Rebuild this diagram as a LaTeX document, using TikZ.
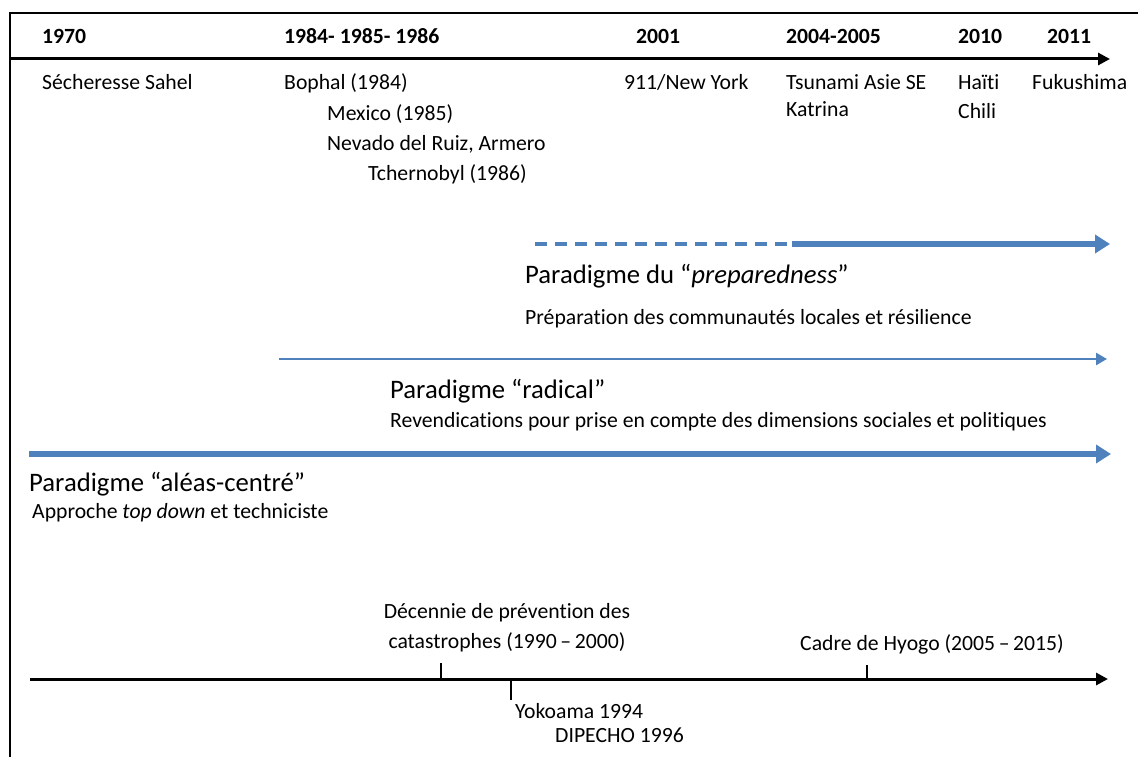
\documentclass[tikz,border=0pt]{standalone}
\usepackage{fontspec}
\setmainfont{Carlito}[Ligatures={NoCommon}]
\usetikzlibrary{arrows.meta}
\definecolor{pblue}{HTML}{4F81BD}
\begin{document}
\begin{tikzpicture}[x=1pt,y=-1pt,
  txt/.style={anchor=base west, inner sep=0pt, font=\fontsize{21.7}{26}\selectfont},
  ctxt/.style={anchor=base, inner sep=0pt, font=\fontsize{21.7}{26}\selectfont},
  yr/.style={anchor=base west, inner sep=0pt, font=\fontsize{21.7}{26}\selectfont\bfseries},
  ttl/.style={anchor=base west, inner sep=0pt, font=\fontsize{26.7}{32}\selectfont},
  blackaxis/.style={line width=3pt, black, -{Triangle[length=12pt,width=12pt]}},
  thickblue/.style={line width=6pt, pblue, -{Triangle[length=15pt,width=18pt]}},
  thinblue/.style={line width=2.5pt, pblue, -{Triangle[length=11pt,width=12pt]}},
  dashblue/.style={line width=4.5pt, pblue, dash pattern=on 12pt off 8pt},
  tick/.style={line width=1.5pt, black}]
\useasboundingbox (0,0) rectangle (1138,757);
% frame
\coordinate (fbl) at (10,757);
\coordinate (ftl) at (10,13);
\coordinate (ftr) at (1138,13);
\draw[line width=2.5pt] (fbl) -- (ftl) -- (ftr);
% top timeline
\coordinate (ta) at (10,59);
\coordinate (tb) at (1110,59);
\draw[blackaxis] (ta) -- (tb);
\node[yr] (y1970) at (42,44) {1970};
\node[yr] (y1984) at (284,44) {1984- 1985- 1986};
\node[yr] (y2001) at (636,44) {2001};
\node[yr] (y2004) at (786,44) {2004-2005};
\node[yr] (y2010) at (958,44) {2010};
\node[yr] (y2011) at (1047,44) {2011};
\node[txt] (sahel) at (42,90) {Sécheresse Sahel};
\node[txt] (bophal) at (284,90) {Bophal (1984)};
\node[txt] (mexico) at (327,121) {Mexico (1985)};
\node[txt] (nevado) at (327,151) {Nevado del Ruiz, Armero};
\node[txt] (tcherno) at (368,180) {Tchernobyl (1986)};
\node[txt] (ny) at (624,90) {911/New York};
\node[txt] (tsunami) at (786,90) {Tsunami Asie SE};
\node[txt] (katrina) at (786,117) {Katrina};
\node[txt] (haiti) at (958,90) {Haïti};
\node[txt] (chili) at (958,119) {Chili};
\node[txt] (fuku) at (1032,90) {Fukushima};
% preparedness
\coordinate (pa) at (535,244);
\coordinate (pm) at (792,244);
\coordinate (pb) at (1110,244);
\draw[dashblue] (pa) -- (pm);
\draw[thickblue] (pm) -- (pb);
\node[ttl] (prepT) at (525,283) {Paradigme du “\textit{preparedness}”};
\node[txt] (prepS) at (525,324) {Préparation des communautés locales et résilience};
% radical
\coordinate (ra) at (279,359);
\coordinate (rb) at (1107,359);
\draw[thinblue] (ra) -- (rb);
\node[ttl] (radT) at (390,398) {Paradigme “radical”};
\node[txt] (radS) at (390,427) {Revendications pour prise en compte des dimensions sociales et politiques};
% alea-centre
\coordinate (aa) at (29,454);
\coordinate (ab) at (1111,454);
\draw[thickblue] (aa) -- (ab);
\node[ttl] (aleaT) at (29,491) {Paradigme “aléas-centré”};
\node[txt] (aleaS) at (32,518) {Approche \textit{top down} et techniciste};
% bottom timeline
\coordinate (ba) at (30,679);
\coordinate (bb) at (1108,679);
\draw[blackaxis] (ba) -- (bb);
\node[ctxt] (dec1) at (507,618) {Décennie de prévention des};
\node[ctxt] (dec2) at (507,648) {catastrophes (1990\,–\,2000)};
\node[txt] (hyogo) at (800,650) {Cadre de Hyogo (2005\,–\,2015)};
\node[txt] (yoko) at (515,718) {Yokoama 1994};
\node[txt] (dipecho) at (555,742) {DIPECHO 1996};
\coordinate (t1a) at (441,663);
\coordinate (t1b) at (441,679);
\coordinate (t2a) at (511,679);
\coordinate (t2b) at (511,700);
\coordinate (t3a) at (867,665);
\coordinate (t3b) at (867,679);
\draw[tick] (t1a) -- (t1b);
\draw[tick] (t2a) -- (t2b);
\draw[tick] (t3a) -- (t3b);
\end{tikzpicture}
\end{document}
